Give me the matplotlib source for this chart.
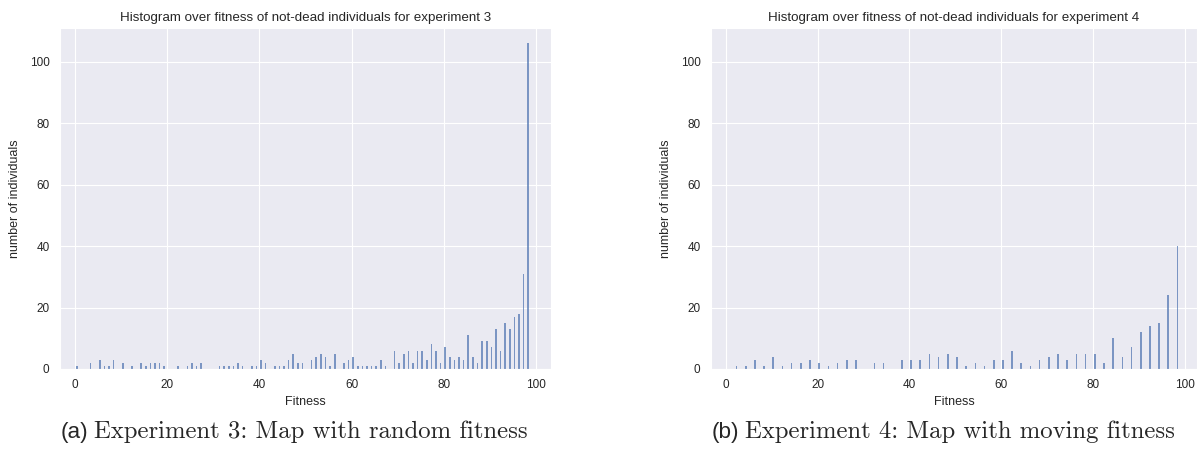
import numpy as np
import matplotlib
matplotlib.use("Agg")
import matplotlib.pyplot as plt
import seaborn as sns
from matplotlib.offsetbox import TextArea, HPacker, AnnotationBbox

# Fitness value -> number of surviving individuals, experiment 3 (random fitness map)
FIT_EXP3 = [0, 3, 5, 6, 7, 8, 10, 12, 14, 15, 16, 17, 18, 19, 22, 24, 25, 26, 27,
            31, 32, 33, 34, 35, 36, 38, 39, 40, 41, 43, 44, 45, 46, 47, 48, 49,
            51, 52, 53, 54, 55, 56, 58, 59, 60, 61, 62, 63, 64, 65, 66, 67,
            69, 70, 71, 72, 73, 74, 75, 76, 77, 78, 79, 80, 81, 82, 83, 84,
            85, 86, 87, 88, 89, 90, 91, 92, 93, 94, 95, 96, 97, 98]
CNT_EXP3 = [1, 2, 3, 1, 1, 3, 2, 1, 2, 1, 2, 2, 2, 1, 1, 1, 2, 1, 2,
            1, 1, 1, 1, 2, 1, 1, 1, 3, 2, 1, 1, 1, 3, 5, 2, 2,
            3, 4, 5, 4, 1, 5, 2, 3, 4, 1, 1, 1, 1, 1, 3, 1,
            6, 2, 5, 6, 2, 6, 6, 3, 8, 6, 2, 7, 4, 3, 4, 3,
            11, 4, 2, 9, 9, 7, 13, 6, 15, 13, 17, 18, 31, 106]

# Experiment 4 (moving fitness map)
FIT_EXP4 = [2, 4, 6, 8, 10, 12, 14, 16, 18, 20, 22, 24, 26, 28, 32, 34, 38, 40,
            42, 44, 46, 48, 50, 52, 54, 56, 58, 60, 62, 64, 66, 68, 70, 72, 74,
            76, 78, 80, 82, 84, 86, 88, 90, 92, 94, 96, 98]
CNT_EXP4 = [1, 1, 3, 1, 4, 1, 2, 2, 3, 2, 1, 2, 3, 3, 2, 2, 3, 3,
            3, 5, 4, 5, 4, 1, 2, 1, 3, 3, 6, 2, 1, 3, 4, 5, 3,
            5, 5, 5, 2, 10, 4, 7, 12, 14, 15, 24, 40]

TITLES = ["Histogram over fitness of not-dead individuals for experiment 3",
          "Histogram over fitness of not-dead individuals for experiment 4"]
CAPTION_TAGS = ["(a)", "(b)"]
CAPTIONS = ["Experiment 3: Map with random fitness",
            "Experiment 4: Map with moving fitness"]

sns.set_style("darkgrid")
plt.rcParams["font.family"] = ["Liberation Sans", "DejaVu Sans"]

fig = plt.figure(figsize=(11.97, 4.57), dpi=100)
ax1 = fig.add_axes([0.0501, 0.1926, 0.4102, 0.746])
ax2 = fig.add_axes([0.5940, 0.1926, 0.4060, 0.746], sharey=ax1)

panels = [(ax1, FIT_EXP3, CNT_EXP3, (-3.3, 103.3)),
          (ax2, FIT_EXP4, CNT_EXP4, (-3.2, 102.6))]

for i, (ax, fit, cnt, xl) in enumerate(panels):
    fit = np.asarray(fit, dtype=float)
    ax.bar(fit + 0.35, cnt, width=0.35, color="#4C72B0", alpha=0.7,
           linewidth=0)
    ax.set_xlim(*xl)
    ax.set_ylim(0, 111)
    ax.set_xticks([0, 20, 40, 60, 80, 100])
    ax.set_yticks([0, 20, 40, 60, 80, 100])
    ax.tick_params(labelsize=8.5, colors=".15", pad=4, labelleft=True)
    ax.set_title(TITLES[i], fontsize=9.6, color=".15", pad=5)
    ax.set_xlabel("Fitness", fontsize=9, color=".15", labelpad=3)
    ax.set_ylabel("number of individuals", fontsize=9, color=".15",
                  labelpad=6)

# sub-figure captions: sans tag followed by serif text
for xc, tag, cap in zip([0.2455, 0.788], CAPTION_TAGS, CAPTIONS):
    box = HPacker(children=[
        TextArea(tag, textprops=dict(family="Liberation Sans", size=16.2)),
        TextArea(cap, textprops=dict(family="cmr10", size=17.8)),
    ], align="baseline", pad=0, sep=4)
    fig.add_artist(AnnotationBbox(box, (xc, 0.055), xycoords="figure fraction",
                                  frameon=False, box_alignment=(0.5, 0.5)))

fig.savefig("out.png", dpi=100)
